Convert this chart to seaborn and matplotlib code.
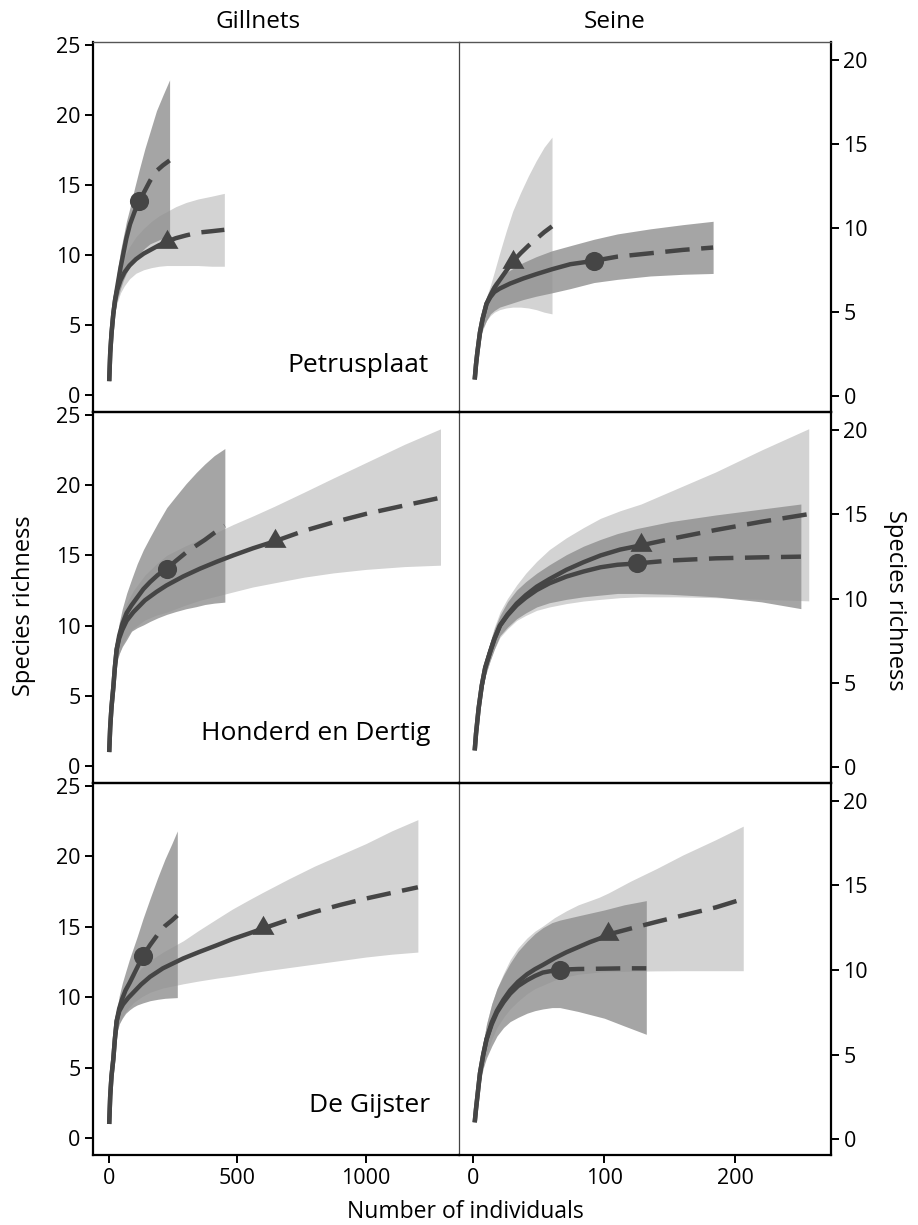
import matplotlib
matplotlib.use("Agg")
import matplotlib.pyplot as plt
from matplotlib.markers import MarkerStyle
import seaborn as sns

# ---------------- data ----------------
sites = ["Petrusplaat", "Honderd en Dertig", "De Gijster"]
gears = ["Gillnets", "Seine"]

# Petrusplaat - Gillnets : circle series
pg_c_x = [1, 5, 10, 17, 24, 32, 45, 56, 68, 82, 100, 118, 140, 160, 185, 210, 236]
pg_c_y = [1, 3.0, 4.4, 5.8, 6.8, 7.7, 9.1, 10.1, 11.2, 12.2, 13.1, 13.85, 14.6, 15.3, 16.0, 16.4, 16.75]
pg_c_lo = [1, 2.8, 4.0, 5.3, 6.1, 6.8, 7.6, 8.2, 8.7, 9.2, 9.7, 10.1, 10.5, 10.8, 11.0, 11.2, 11.3]
pg_c_hi = [1, 3.2, 4.8, 6.4, 7.6, 8.7, 10.3, 11.3, 12.4, 13.4, 14.8, 16.1, 17.6, 18.8, 20.3, 21.4, 22.5]
pg_c_n = 118
# Petrusplaat - Gillnets : triangle series
pg_t_x = [1, 5, 10, 17, 24, 32, 45, 60, 80, 105, 135, 165, 195, 225, 260, 300, 347, 400, 449]
pg_t_y = [1, 3.0, 4.4, 5.8, 6.8, 7.5, 8.2, 8.75, 9.25, 9.7, 10.1, 10.4, 10.7, 10.95, 11.2, 11.4, 11.6, 11.7, 11.8]
pg_t_lo = [1, 2.8, 4.0, 5.3, 6.0, 6.6, 7.3, 7.8, 8.3, 8.7, 8.95, 9.1, 9.2, 9.25, 9.25, 9.25, 9.25, 9.2, 9.2]
pg_t_hi = [1, 3.2, 4.8, 6.4, 7.5, 8.3, 9.2, 9.9, 10.6, 11.3, 11.9, 12.4, 12.8, 13.1, 13.45, 13.75, 14.0, 14.2, 14.4]
pg_t_n = 225

# Petrusplaat - Seine
ps_c_x = [1, 2, 3, 5, 7, 10, 13, 16, 20, 28, 38, 48, 60, 74, 92, 110, 135, 160, 183]
ps_c_y = [1, 1.9, 2.6, 3.8, 4.6, 5.5, 5.9, 6.2, 6.4, 6.7, 7.0, 7.26, 7.55, 7.85, 8.05, 8.3, 8.5, 8.7, 8.84]
ps_c_lo = [1, 1.8, 2.4, 3.4, 4.0, 4.5, 4.9, 5.1, 5.3, 5.5, 5.75, 5.95, 6.15, 6.4, 6.76, 6.95, 7.15, 7.25, 7.3]
ps_c_hi = [1, 2.0, 2.8, 4.1, 5.0, 5.9, 6.4, 6.8, 7.1, 7.5, 7.95, 8.3, 8.65, 8.95, 9.33, 9.65, 9.95, 10.2, 10.4]
ps_c_n = 92
ps_t_x = [1, 2, 3, 5, 7, 10, 13, 16, 20, 25, 30, 36, 42, 48, 54, 60]
ps_t_y = [1, 1.9, 2.6, 3.8, 4.6, 5.5, 6.0, 6.45, 6.9, 7.45, 8.0, 8.5, 8.95, 9.35, 9.75, 10.1]
ps_t_lo = [1, 1.7, 2.3, 3.3, 3.9, 4.5, 4.8, 5.0, 5.15, 5.25, 5.3, 5.3, 5.25, 5.15, 5.0, 4.9]
ps_t_hi = [1, 2.1, 2.9, 4.3, 5.1, 5.9, 6.6, 7.4, 8.5, 9.8, 11.0, 12.1, 13.1, 14.0, 14.8, 15.4]
ps_t_n = 30

# Honderd en Dertig - Gillnets
hg_c_x = [1, 5, 10, 17, 23, 30, 40, 52, 69, 88, 110, 134, 160, 190, 225, 260, 300, 340, 373, 410, 451]
hg_c_y = [1, 2.8, 4.2, 5.6, 7.0, 8.3, 9.3, 10.1, 10.9, 11.45, 12.0, 12.6, 13.1, 13.6, 14.05, 14.6, 15.2, 15.7, 16.1, 16.6, 17.1]
hg_c_lo = [1, 2.7, 3.9, 5.1, 6.3, 7.4, 8.0, 8.5, 9.0, 9.6, 9.85, 10.05, 10.3, 10.55, 10.8, 11.0, 11.2, 11.35, 11.5, 11.6, 11.67]
hg_c_hi = [1, 3.0, 4.6, 6.2, 7.7, 9.0, 10.2, 11.2, 12.3, 13.3, 14.4, 15.4, 16.3, 17.3, 18.4, 19.2, 20.1, 20.9, 21.5, 22.1, 22.6]
hg_c_n = 225
hg_t_x = [1, 5, 10, 17, 23, 30, 40, 52, 69, 95, 140, 185, 224, 289, 354, 420, 484, 560, 645, 760, 873, 1000, 1150, 1290]
hg_t_y = [1, 2.8, 4.2, 5.6, 7.0, 8.3, 9.1, 9.7, 10.35, 10.96, 11.8, 12.4, 12.86, 13.5, 14.05, 14.55, 15.0, 15.5, 16.0, 16.75, 17.35, 17.95, 18.55, 19.1]
hg_t_lo = [1, 2.7, 3.9, 5.1, 6.3, 7.3, 8.0, 8.6, 9.2, 9.8, 10.4, 10.75, 10.95, 11.4, 11.8, 12.1, 12.4, 12.75, 13.05, 13.45, 13.75, 14.0, 14.2, 14.3]
hg_t_hi = [1, 3.0, 4.6, 6.2, 7.7, 9.0, 10.0, 10.8, 11.6, 12.5, 13.6, 14.4, 15.0, 15.6, 16.15, 16.65, 17.2, 17.8, 18.5, 19.5, 20.5, 21.6, 22.9, 24.0]
hg_t_n = 645

# Honderd en Dertig - Seine
hs_c_x = [1, 2, 4, 6.4, 9, 12.7, 16, 20.3, 26, 33, 40, 48.3, 58, 71, 84, 97, 110, 125, 150, 185, 220, 250]
hs_c_y = [1, 2.0, 3.5, 4.85, 5.9, 6.83, 7.6, 8.4, 9.0, 9.6, 10.05, 10.5, 10.9, 11.3, 11.6, 11.85, 12.0, 12.08, 12.25, 12.38, 12.44, 12.48]
hs_c_lo = [1, 1.8, 3.1, 4.4, 5.4, 6.3, 7.0, 7.8, 8.3, 8.8, 9.15, 9.5, 9.75, 9.95, 10.1, 10.2, 10.3, 10.3, 10.25, 10.1, 9.8, 9.4]
hs_c_hi = [1, 2.2, 3.9, 5.3, 6.4, 7.4, 8.2, 9.0, 9.8, 10.5, 11.0, 11.5, 12.0, 12.6, 13.1, 13.5, 13.85, 14.15, 14.55, 14.95, 15.3, 15.6]
hs_c_n = 125
hs_t_x = [1, 2, 4, 6.4, 9, 12.7, 16, 20.3, 26, 33, 40, 48.3, 58, 71, 84, 97, 112, 128, 155, 185, 220, 256]
hs_t_y = [1, 2.0, 3.5, 4.85, 5.9, 6.83, 7.6, 8.4, 9.05, 9.7, 10.2, 10.7, 11.15, 11.7, 12.15, 12.55, 12.9, 13.15, 13.6, 14.06, 14.55, 15.0]
hs_t_lo = [1, 1.8, 3.1, 4.4, 5.4, 6.3, 7.0, 7.7, 8.2, 8.7, 9.0, 9.3, 9.5, 9.7, 9.85, 9.95, 10.05, 10.1, 10.1, 10.05, 9.95, 9.86]
hs_t_hi = [1, 2.2, 3.9, 5.3, 6.4, 7.4, 8.3, 9.2, 10.0, 10.8, 11.5, 12.2, 12.9, 13.6, 14.2, 14.75, 15.2, 15.6, 16.5, 17.5, 18.8, 20.06]
hs_t_n = 128

# De Gijster - Gillnets
dg_c_x = [1, 5, 10, 17, 23, 30, 40, 52, 65, 80, 95, 110, 133, 160, 190, 218, 245, 266]
dg_c_y = [1, 3.0, 4.4, 5.6, 7.0, 8.3, 9.2, 9.9, 10.5, 11.0, 11.55, 12.1, 12.95, 13.7, 14.45, 15.05, 15.45, 15.8]
dg_c_lo = [1, 2.8, 4.0, 5.2, 6.4, 7.4, 8.1, 8.5, 8.85, 9.1, 9.3, 9.45, 9.6, 9.75, 9.85, 9.92, 9.95, 9.97]
dg_c_hi = [1, 3.2, 4.8, 6.3, 7.7, 9.0, 10.1, 11.0, 11.8, 12.7, 13.5, 14.3, 15.6, 17.0, 18.5, 19.8, 20.9, 21.8]
dg_c_n = 133
dg_t_x = [1, 5, 10, 17, 23, 30, 40, 55, 75, 95, 125, 160, 210, 289, 350, 419, 480, 549, 600, 700, 800, 900, 1000, 1100, 1202]
dg_t_y = [1, 3.0, 4.4, 5.6, 7.0, 8.3, 9.0, 9.5, 9.95, 10.33, 10.9, 11.45, 12.05, 12.75, 13.2, 13.68, 14.12, 14.55, 14.88, 15.5, 16.05, 16.55, 17.0, 17.4, 17.8]
dg_t_lo = [1, 2.8, 4.0, 5.2, 6.4, 7.4, 8.1, 8.7, 9.2, 9.6, 10.0, 10.35, 10.65, 10.95, 11.15, 11.35, 11.5, 11.7, 11.85, 12.1, 12.35, 12.6, 12.85, 13.05, 13.2]
dg_t_hi = [1, 3.2, 4.8, 6.3, 7.7, 8.8, 9.6, 10.3, 10.9, 11.4, 12.05, 12.6, 13.2, 14.0, 14.75, 15.55, 16.25, 16.95, 17.45, 18.4, 19.3, 20.1, 20.9, 21.8, 22.6]
dg_t_n = 600

# De Gijster - Seine
ds_c_x = [1, 2, 3, 5, 7.5, 10, 14, 18, 23, 28, 34, 41, 47, 53, 60, 66, 80, 100, 115, 132]
ds_c_y = [1, 1.8, 2.5, 3.9, 5.0, 5.9, 6.8, 7.5, 8.1, 8.6, 9.05, 9.4, 9.65, 9.85, 9.95, 10.02, 10.06, 10.08, 10.1, 10.1]
ds_c_lo = [1, 1.6, 2.2, 3.3, 4.2, 4.8, 5.5, 6.1, 6.6, 6.95, 7.2, 7.45, 7.6, 7.7, 7.78, 7.78, 7.55, 7.15, 6.7, 6.2]
ds_c_hi = [1, 2.0, 2.8, 4.4, 5.7, 6.8, 8.0, 8.9, 9.7, 10.4, 11.1, 11.7, 12.15, 12.5, 12.8, 12.95, 13.2, 13.55, 13.85, 14.1]
ds_c_n = 66
ds_t_x = [1, 2, 3, 5, 7.5, 10, 14, 18, 23, 28, 34, 41, 47, 53, 62, 71, 80, 89, 96, 103, 120, 140, 160, 185, 206]
ds_t_y = [1, 1.8, 2.5, 3.9, 5.0, 5.9, 6.9, 7.6, 8.25, 8.8, 9.3, 9.75, 10.05, 10.3, 10.7, 11.05, 11.35, 11.65, 11.85, 12.1, 12.45, 12.85, 13.23, 13.7, 14.2]
ds_t_lo = [1, 1.6, 2.2, 3.3, 4.3, 5.0, 5.9, 6.6, 7.2, 7.7, 8.15, 8.6, 8.9, 9.1, 9.4, 9.6, 9.75, 9.82, 9.88, 9.9, 9.93, 9.95, 9.96, 9.96, 9.96]
ds_t_hi = [1, 2.0, 2.8, 4.4, 5.7, 6.8, 8.0, 8.9, 9.8, 10.6, 11.3, 11.9, 12.3, 12.6, 13.1, 13.5, 13.85, 14.1, 14.3, 14.55, 15.25, 16.0, 16.8, 17.7, 18.5]
ds_t_n = 103

left_yticks = [0, 5, 10, 15, 20, 25]
right_yticks = [0, 5, 10, 15, 20]
left_xticks = [0, 500, 1000]
right_xticks = [0, 100, 200]

panels = {
    (0, 0): [(pg_c_x, pg_c_y, pg_c_lo, pg_c_hi, pg_c_n, "o"), (pg_t_x, pg_t_y, pg_t_lo, pg_t_hi, pg_t_n, "^")],
    (0, 1): [(ps_c_x, ps_c_y, ps_c_lo, ps_c_hi, ps_c_n, "o"), (ps_t_x, ps_t_y, ps_t_lo, ps_t_hi, ps_t_n, "^")],
    (1, 0): [(hg_c_x, hg_c_y, hg_c_lo, hg_c_hi, hg_c_n, "o"), (hg_t_x, hg_t_y, hg_t_lo, hg_t_hi, hg_t_n, "^")],
    (1, 1): [(hs_c_x, hs_c_y, hs_c_lo, hs_c_hi, hs_c_n, "o"), (hs_t_x, hs_t_y, hs_t_lo, hs_t_hi, hs_t_n, "^")],
    (2, 0): [(dg_c_x, dg_c_y, dg_c_lo, dg_c_hi, dg_c_n, "o"), (dg_t_x, dg_t_y, dg_t_lo, dg_t_hi, dg_t_n, "^")],
    (2, 1): [(ds_c_x, ds_c_y, ds_c_lo, ds_c_hi, ds_c_n, "o"), (ds_t_x, ds_t_y, ds_t_lo, ds_t_hi, ds_t_n, "^")],
}

# ---------------- style ----------------
sns.set_theme(style="white")
plt.rcParams["font.family"] = ["Open Sans", "DejaVu Sans"]
plt.rcParams["text.color"] = "black"
plt.rcParams["axes.labelcolor"] = "black"
plt.rcParams["xtick.color"] = "black"
plt.rcParams["ytick.color"] = "black"

W, H = 918, 1225
fig = plt.figure(figsize=(W / 100, H / 100), dpi=100)

LINE = "#454545"
LIGHT = "#d3d3d3"
DARK = "#8f8f8f"
# triangle marker centred on its centroid
TRI = MarkerStyle([(0, 1), (-0.866, -0.5), (0.866, -0.5), (0, 1)])

col_px = [(93, 459), (459, 831)]
row_px = [(42, 412), (412, 783), (783, 1155)]


def obs_index(x, n):
    return min(range(len(x)), key=lambda i: abs(x[i] - n))


for (r, c), series in panels.items():
    x0, x1 = col_px[c]
    y0, y1 = row_px[r]
    ax = fig.add_axes([x0 / W, 1 - y1 / H, (x1 - x0) / W, (y1 - y0) / H])
    ax.set_facecolor("none")
    # bands: triangle (light) first, then circle (dark, semi-transparent)
    for (x, y, lo, hi, n, m) in series:
        if m == "^":
            ax.fill_between(x, lo, hi, color=LIGHT, alpha=1.0, lw=0, zorder=1)
    for (x, y, lo, hi, n, m) in series:
        if m == "o":
            ax.fill_between(x, lo, hi, color=DARK, alpha=0.8, lw=0, zorder=2)
    for (x, y, lo, hi, n, m) in series:
        k = obs_index(x, n)
        sns.lineplot(x=x[:k + 1], y=y[:k + 1], ax=ax, color=LINE, lw=3.2,
                     estimator=None, sort=False, zorder=4, solid_capstyle="butt",
                     solid_joinstyle="round")
        sns.lineplot(x=x[k:], y=y[k:], ax=ax, color=LINE, lw=3.2,
                     estimator=None, sort=False, zorder=4,
                     linestyle=(0, (5.5, 2.6)), dash_capstyle="butt")
        if m == "o":
            sns.scatterplot(x=[x[k]], y=[y[k]], ax=ax, marker="o", color=LINE,
                            s=190, linewidth=0, zorder=5)
        else:
            sns.scatterplot(x=[x[k]], y=[y[k]], ax=ax, marker=TRI, color=LINE,
                            s=335, linewidth=0, zorder=5)

    if c == 0:
        ax.set_xlim(-62, 1362)
        ax.set_ylim(-1.2, 25.2)
        ax.set_yticks(left_yticks)
        ax.set_xticks(left_xticks)
    else:
        ax.set_xlim(-11, 273)
        ax.set_ylim(-0.93, 21.05)
        ax.set_yticks(right_yticks)
        ax.set_xticks(right_xticks)
    ax.set_xlabel("")
    ax.set_ylabel("")
    ax.tick_params(axis="both", which="both", direction="out", length=6, width=1.4,
                   color="black", labelsize=15.5, pad=3, labelcolor="black")
    if r < 2:
        ax.tick_params(axis="x", bottom=False, labelbottom=False)
    else:
        ax.tick_params(axis="x", bottom=True, labelbottom=True)
    if c == 0:
        ax.tick_params(axis="y", left=True, labelleft=True, right=False, labelright=False)
    else:
        ax.tick_params(axis="y", left=False, labelleft=False, right=True, labelright=True)

    for sp in ax.spines.values():
        sp.set_visible(True)
        sp.set_color("black")
        sp.set_linewidth(1.6)
    if r == 0:
        ax.spines["top"].set_color("#555555")
        ax.spines["top"].set_linewidth(1.0)
    if c == 0:
        ax.spines["right"].set_color("#444444")
        ax.spines["right"].set_linewidth(0.9)
    else:
        ax.spines["left"].set_visible(False)


def ftext(px, py, s, **kw):
    fig.text(px / W, 1 - py / H, s, color="black", **kw)


ftext(258, 22, "Gillnets", ha="center", va="center", fontsize=17.5)
ftext(615, 22, "Seine", ha="center", va="center", fontsize=17.5)
ftext(24, 606, "Species richness", ha="center", va="center", rotation=90, fontsize=17)
ftext(895, 600, "Species richness", ha="center", va="center", rotation=270, fontsize=17)
ftext(465, 1212, "Number of individuals", ha="center", va="center", fontsize=16.5)
ftext(429, 372, sites[0], ha="right", va="baseline", fontsize=19)
ftext(430, 740, sites[1], ha="right", va="baseline", fontsize=19)
ftext(430, 1112, sites[2], ha="right", va="baseline", fontsize=19)

fig.savefig("out.png", dpi=100)
